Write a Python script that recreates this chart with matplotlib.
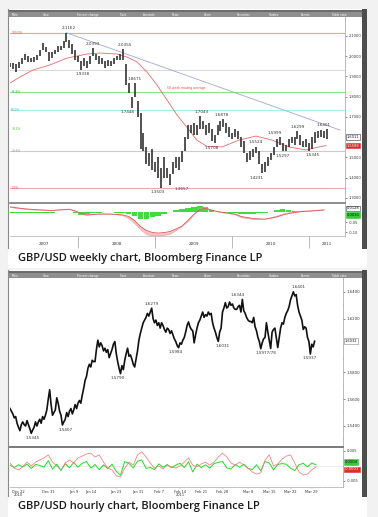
import numpy as np
import matplotlib
matplotlib.use("Agg")
from matplotlib import pyplot as plt
from matplotlib.ticker import MultipleLocator, FormatStrFormatter
from matplotlib.transforms import blended_transform_factory

W, H = 378, 517

# ---------------- weekly GBP/USD, two-week high/low bars ----------------
wk_start = 2007.12
wk_step = 2 / 52.0
wk_low = [1.945, 1.935, 1.920, 1.940, 1.960, 1.980, 1.970, 1.970, 1.970, 1.980,
          2.000, 2.030, 2.020, 1.975, 1.990, 2.010, 2.020, 2.030, 2.040, 2.070,
          2.040, 2.010, 1.980, 1.970, 1.9338, 1.950, 1.940, 1.960, 2.000, 1.980,
          1.960, 1.960, 1.940, 1.950, 1.950, 1.960, 1.980, 1.980, 1.980, 1.860,
          1.820, 1.7448, 1.800, 1.700, 1.540, 1.530, 1.470, 1.460, 1.440, 1.430,
          1.400, 1.3503, 1.400, 1.400, 1.3657, 1.420, 1.450, 1.440, 1.480, 1.530,
          1.590, 1.620, 1.610, 1.610, 1.640, 1.640, 1.610, 1.620, 1.580, 1.5708,
          1.610, 1.630, 1.650, 1.620, 1.600, 1.590, 1.600, 1.590, 1.550, 1.520,
          1.480, 1.490, 1.500, 1.520, 1.470, 1.4231, 1.430, 1.460, 1.490, 1.510,
          1.550, 1.560, 1.530, 1.5297, 1.550, 1.570, 1.560, 1.590, 1.560, 1.550,
          1.550, 1.5345, 1.540, 1.570, 1.598, 1.600, 1.598, 1.5937]
wk_high = [1.965, 1.965, 1.960, 1.970, 1.990, 2.010, 2.000, 1.990, 1.995, 2.005,
           2.030, 2.065, 2.045, 2.020, 2.020, 2.030, 2.050, 2.050, 2.075, 2.1162,
           2.080, 2.060, 2.030, 2.000, 1.975, 1.990, 1.975, 2.000, 2.0393, 2.010,
           2.000, 1.990, 1.975, 1.980, 1.975, 1.990, 2.000, 2.010, 2.0355, 1.960,
           1.870, 1.800, 1.8671, 1.780, 1.720, 1.620, 1.550, 1.520, 1.540, 1.480,
           1.500, 1.450, 1.500, 1.450, 1.420, 1.480, 1.500, 1.500, 1.530, 1.600,
           1.660, 1.660, 1.670, 1.660, 1.7043, 1.680, 1.660, 1.670, 1.640, 1.610,
           1.660, 1.680, 1.6878, 1.670, 1.650, 1.620, 1.640, 1.630, 1.600, 1.580,
           1.520, 1.530, 1.540, 1.5524, 1.530, 1.470, 1.480, 1.500, 1.520, 1.550,
           1.590, 1.5999, 1.570, 1.560, 1.590, 1.600, 1.600, 1.6299, 1.610, 1.580,
           1.590, 1.570, 1.600, 1.6279, 1.630, 1.6344, 1.630, 1.6401]
wk_last = 1.6011

# swing highs / lows that carry a price label
wk_lab_idx = [19, 24, 28, 38, 41, 42, 51, 54, 64, 69, 72, 83, 85, 91, 93, 97, 101, 107]
wk_lab_side = ["hi", "lo", "hi", "hi", "lo", "hi", "lo", "lo", "hi", "lo",
               "hi", "hi", "lo", "hi", "lo", "hi", "lo", "hi"]
wk_lab_dx = [2, 1, 0, 2, -4, 0, -4, 12, 2, -3, -2, 0, -5, -5, -3, 0, 3, -3]

# 50 week moving average
ma_t = [2007.117, 2007.247, 2007.416, 2007.636, 2007.857, 2008.117, 2008.286, 2008.506,
        2008.636, 2008.766, 2008.896, 2009.026, 2009.156, 2009.286, 2009.442, 2009.545,
        2009.675, 2009.870, 2010.091, 2010.312, 2010.519, 2010.740, 2010.961, 2011.130,
        2011.221]
ma_v = [1.868, 1.898, 1.932, 1.957, 1.991, 2.011, 2.016, 2.011, 1.996, 1.972, 1.922,
        1.858, 1.784, 1.710, 1.636, 1.585, 1.555, 1.552, 1.586, 1.606, 1.586, 1.552,
        1.537, 1.552, 1.5588]

trend_t = [2007.85, 2011.40]
trend_v = [2.1162, 1.636]
support = 1.9338

fib_levels = [2.1162, 1.8236, 1.7333, 1.6429, 1.5311, 1.3503]
fib_names = ["100.0%", "61.8%", "50.0%", "38.2%", "23.6%", "0.0%"]

# MACD panel, four-week steps
macd_step = 4 / 52.0
wk_macd = [0.028, 0.024, 0.020, 0.017, 0.015, 0.013, 0.012, 0.010, 0.012, 0.014,
           0.016, 0.008, -0.005, -0.012, -0.010, -0.008, -0.008, -0.008, -0.010, -0.012,
           -0.020, -0.040, -0.070, -0.090, -0.100, -0.103, -0.100, -0.095, -0.082, -0.068,
           -0.040, -0.010, 0.015, 0.020, 0.012, 0.005, 0.000, -0.004, -0.008, -0.020,
           -0.025, -0.030, -0.032, -0.033, -0.028, -0.022, -0.012, -0.005, 0.000, 0.004,
           0.006, 0.008, 0.010, 0.0128]
wk_fast = [0.026, 0.021, 0.018, 0.015, 0.013, 0.012, 0.011, 0.009, 0.013, 0.016,
           0.017, 0.004, -0.010, -0.014, -0.010, -0.007, -0.007, -0.008, -0.011, -0.015,
           -0.030, -0.055, -0.085, -0.110, -0.116, -0.117, -0.114, -0.108, -0.090, -0.070,
           -0.045, -0.012, 0.020, 0.024, 0.012, 0.003, -0.002, -0.006, -0.012, -0.025,
           -0.030, -0.034, -0.035, -0.034, -0.027, -0.018, -0.008, -0.002, 0.002, 0.006,
           0.008, 0.010, 0.012, 0.013]
wk_hist = [-0.002, -0.003, -0.004, -0.004, -0.003, -0.002, -0.002, -0.002, 0.000, 0.002,
           0.003, -0.004, -0.011, -0.010, -0.004, -0.002, 0.000, 0.000, -0.001, -0.002,
           -0.007, -0.018, -0.032, -0.032, -0.025, -0.016, -0.006, 0.001, 0.011, 0.017,
           0.022, 0.025, 0.030, 0.025, 0.014, 0.001, -0.004, -0.005, -0.005, -0.010,
           -0.008, -0.007, -0.004, -0.002, 0.003, 0.012, 0.016, 0.012, 0.008, 0.006,
           0.004, 0.003, 0.002, 0.003]

# 1.6000 and 0.00 sit under the value boxes in the reference
wk_price_ticks = [1.3, 1.4, 1.5, 1.7, 1.8, 1.9, 2.0, 2.1]
wk_macd_ticks = [-0.10, -0.05]
years = ["2007", "2008", "2009", "2010", "2011"]
year_bounds = [2008, 2009, 2010, 2011]

# ---------------- hourly GBP/USD (8 hour steps, x in trading days) ----------------
hr_step = 1 / 3.0
hr_price = [1.553, 1.551, 1.549, 1.546, 1.547, 1.542, 1.539, 1.5365, 1.541, 1.543,
            1.541, 1.540, 1.544, 1.541, 1.538, 1.5345, 1.537, 1.539, 1.543, 1.540,
            1.543, 1.545, 1.542, 1.547, 1.545, 1.548, 1.552, 1.560, 1.567, 1.556,
            1.548, 1.550, 1.552, 1.561, 1.557, 1.551, 1.548, 1.5407, 1.543, 1.545,
            1.550, 1.547, 1.551, 1.553, 1.549, 1.552, 1.556, 1.553, 1.557, 1.559,
            1.557, 1.563, 1.568, 1.574, 1.577, 1.583, 1.586, 1.584, 1.589, 1.588,
            1.588, 1.597, 1.604, 1.599, 1.602, 1.600, 1.596, 1.598, 1.595, 1.597,
            1.591, 1.594, 1.597, 1.601, 1.603, 1.594, 1.588, 1.583, 1.5790, 1.585,
            1.582, 1.589, 1.594, 1.598, 1.592, 1.593, 1.590, 1.586, 1.584, 1.590,
            1.596, 1.604, 1.609, 1.613, 1.617, 1.619, 1.621, 1.624, 1.622, 1.625,
            1.6279, 1.620, 1.617, 1.619, 1.615, 1.617, 1.613, 1.617, 1.615, 1.612,
            1.610, 1.613, 1.612, 1.609, 1.611, 1.608, 1.605, 1.603, 1.600, 1.5984,
            1.602, 1.601, 1.604, 1.606, 1.610, 1.615, 1.6176, 1.614, 1.612, 1.611,
            1.602, 1.608, 1.613, 1.617, 1.619, 1.622, 1.625, 1.621, 1.623, 1.622,
            1.625, 1.623, 1.624, 1.617, 1.613, 1.610, 1.606, 1.6031, 1.610, 1.613,
            1.625, 1.628, 1.632, 1.628, 1.629, 1.6325, 1.630, 1.631, 1.628, 1.627,
            1.627, 1.629, 1.630, 1.625, 1.6344, 1.626, 1.624, 1.621, 1.619, 1.618,
            1.618, 1.617, 1.621, 1.614, 1.611, 1.606, 1.603, 1.5977, 1.602, 1.605,
            1.606, 1.617, 1.610, 1.604, 1.5978, 1.610, 1.612, 1.613, 1.606, 1.5985,
            1.606, 1.613, 1.617, 1.616, 1.621, 1.624, 1.626, 1.629, 1.634, 1.637,
            1.6401, 1.637, 1.638, 1.630, 1.625, 1.622, 1.619, 1.612, 1.614, 1.613,
            1.606, 1.603, 1.5937, 1.601, 1.599, 1.6032]

hr_lab_idx = [15, 37, 78, 100, 119, 147, 164, 177, 200, 212]
hr_lab_text = ["1.5345", "1.5407", "1.5790", "1.6279", "1.5984", "1.6031", "1.6344",
               "1.5977/78", "1.6401", "1.5937"]
hr_lab_side = ["lo", "lo", "lo", "hi", "lo", "lo", "hi", "lo", "hi", "lo"]
hr_lab_dx = [1, 3, -3, 0, -3, 4, -5, 5, 5, -1]

# oscillator, one value per trading day (x 0.001)
osc_red = [1.0, -0.7, -1.3, -0.3, 1.3, 0.0, 1.3, 2.0, 2.7, 3.7,
           1.3, 0.0, -1.3, 1.0, 2.0, 1.0, 2.7, 3.3, 4.0, 4.3,
           3.0, 3.7, 1.3, -0.7, -1.3, -3.3, -3.7, -0.7, 1.3, 0.3,
           3.7, 4.7, 3.0, 1.0, -0.7, 0.0, -1.0, 0.3, -0.3, -0.7,
           0.0, 1.3, 2.7, 0.3, -0.3, 0.7, 1.3, 0.3, 1.3, 3.0,
           4.3, 3.0, 1.0, 0.3, 1.3, 0.3, -0.7, -2.0, -2.7, -2.3,
           2.0, 3.7, 0.0, 0.7, 2.3, 3.3, 3.7, 1.0, -2.0, -3.0,
           -2.7, -1.3, -0.3]
osc_green = [0.3, -0.5, 0.4, -0.3, 0.6, -0.8, 0.5, 0.2, -0.4, 1.8,
             -1.0, 0.6, -1.5, 0.8, -0.6, 1.2, -0.4, 0.9, 1.5, -0.7,
             0.5, -1.2, 0.4, -0.9, 0.6, -1.8, -3.0, 1.5, 0.8, -0.6,
             1.6, 2.0, -0.8, -0.5, -1.2, 0.7, -0.4, 0.5, -0.6, 0.3,
             0.9, -0.5, 1.4, -2.0, 0.6, -0.5, 0.4, -0.7, 0.8, 1.2,
             1.5, -0.6, -1.0, 0.5, -0.4, 0.6, -0.8, -1.2, 0.4, -1.6,
             1.5, 1.0, -1.3, 0.5, 0.8, 0.6, -0.7, -1.5, 0.4, 0.9,
             -0.3, 1.0, 0.4]

hr_tick_day = [2, 9, 15, 19, 25, 30, 35, 40, 45, 50, 56, 61, 66, 71]
hr_tick_lab = ["Dec 22\n2010", "Dec 31", "Jan 9", "Jan 14", "Jan 23", "Jan 31", "Feb 7",
               "Feb 14\n2011", "Feb 21", "Feb 28", "Mar 8", "Mar 15", "Mar 22", "Mar 29"]
hr_price_ticks = [1.54, 1.56, 1.58, 1.62, 1.64]
hr_osc_ticks = [-0.005, 0.005]

toolbar_items = ["Main", "View", "Percent change", "Track", "Annotate", "News",
                 "Zoom", "Securities", "Studies", "Events", "Table view"]


fig = plt.figure(figsize=(W / 100, H / 100), dpi=100)
fig.patch.set_facecolor("#f2f2f2")


def px_axes(x0, y0, x1, y1):
    return fig.add_axes([x0 / W, 1 - y1 / H, (x1 - x0) / W, (y1 - y0) / H])


def blank(ax, fc):
    ax.set_facecolor(fc)
    ax.set_xticks([])
    ax.set_yticks([])
    for s in ax.spines.values():
        s.set_visible(False)


def window(y0, y1):
    bg = px_axes(8, y0, 363, y1)
    blank(bg, "white")
    bg.spines["left"].set_visible(True)
    bg.spines["left"].set_color("#8a8a8a")
    bg.spines["left"].set_linewidth(0.8)
    blank(px_axes(362, y0, 367, y1), "#4d4d4d")
    tb = px_axes(9, y0 + 1, 362, y0 + 8)
    blank(tb, "#8f8f8f")
    blank(px_axes(9, y0 + 1, 362, y0 + 3.2), "#6c6c6c")
    xs = [12, 43, 77, 120, 143, 172, 204, 237, 269, 301, 332]
    for name, x in zip(toolbar_items, xs):
        tb.text((x - 9) / 353.0, 0.3, name, fontsize=2.0, color="white",
                va="center", ha="left", transform=tb.transAxes)


def caption(y0, y1, text):
    ax = px_axes(8, y0, 367, y1)
    blank(ax, "white")
    ax.text(0.028, 0.5, text, fontsize=8, family="Open Sans", weight="semibold",
            color="#1a1a1a", va="center", ha="left", transform=ax.transAxes)


def right_box(ax, y, text, fc, ec, tc, dy=0):
    ax.annotate(text, (1.0, y), xycoords=blended_transform_factory(ax.transAxes, ax.transData),
                xytext=(1.2, dy * 0.72), textcoords="offset points", fontsize=2.6,
                color=tc, ha="left", va="center", annotation_clip=False, zorder=6,
                bbox=dict(boxstyle="square,pad=0.25", fc=fc, ec=ec, lw=0.4))


def swing_labels(ax, xs, ys, texts, sides, dxs):
    for x, y, s, side, dx in zip(xs, ys, texts, sides, dxs):
        dy = 4.5 if side == "hi" else -4.5
        ax.annotate(s, (x, y), xytext=(dx * 0.72, dy * 0.72), textcoords="offset points",
                    ha="center", va="center", fontsize=3.0, color="#333333", zorder=5)


def style_right(ax, ticks, fmt, size):
    ax.yaxis.tick_right()
    ax.set_yticks(ticks)
    ax.yaxis.set_major_formatter(FormatStrFormatter(fmt))
    ax.tick_params(axis="y", which="major", length=1.5, width=0.4, pad=1,
                   labelsize=size, colors="#333333")
    ax.tick_params(axis="y", which="minor", length=1.0, width=0.3, colors="#777777")
    for side in ("left", "top"):
        ax.spines[side].set_visible(False)
    ax.spines["right"].set_color("#a0a0a0")
    ax.spines["right"].set_linewidth(0.5)


# ======================= weekly chart =======================
window(9, 249)
caption(249, 268, "GBP/USD weekly chart, Bloomberg Finance LP")

ax1 = px_axes(10, 17, 345, 203)
ax2 = px_axes(10, 204, 345, 236)
xlim_wk = (2007.117, 2011.468)

t_wk = wk_start + wk_step * np.arange(len(wk_low))
ax1.set_xlim(*xlim_wk)
ax1.set_ylim(1.2753, 2.1938)
ax1.set_xticks([])
fib_line = ["#f4a0a0", "#88e888", "#a6eeee", None, "#cccccc", "#f0a8a8"]
fib_text = ["#e04848", "#33c033", "#33b8c8", "#33c033", "#999999", "#e04848"]
lab_tr = blended_transform_factory(ax1.transAxes, ax1.transData)
for lvl, name, lc, tc in zip(fib_levels, fib_names, fib_line, fib_text):
    if lc:
        ax1.axhline(lvl, color=lc, lw=0.8, zorder=1)
    ax1.text(0.004, lvl, name, transform=lab_tr, fontsize=2.1, color=tc,
             va="center", ha="left", zorder=2)
ax1.axhline(support, color="#d2d2d2", lw=0.6, zorder=1)
ax1.plot(trend_t, trend_v, color="#a4a4dc", lw=0.6, zorder=2)
ax1.plot(ma_t, ma_v, color="#e86a6a", lw=0.6, zorder=2)
ax1.text(2009.40, 1.843, "50 week moving average", fontsize=2.2, color="#e04040",
         ha="center", va="center")
ax1.vlines(t_wk, wk_low, wk_high, color="#333333", lw=1.2, zorder=3)

lab_x = [t_wk[i] for i in wk_lab_idx]
lab_y = [wk_high[i] if s == "hi" else wk_low[i] for i, s in zip(wk_lab_idx, wk_lab_side)]
swing_labels(ax1, lab_x, lab_y, ["%.4f" % v for v in lab_y], wk_lab_side, wk_lab_dx)

style_right(ax1, wk_price_ticks, "%.4f", 2.6)
ax1.yaxis.set_minor_locator(MultipleLocator(0.05))
ax1.spines["bottom"].set_color("#7a7a7a")
ax1.spines["bottom"].set_linewidth(1.2)
right_box(ax1, wk_last, "%.4f" % wk_last, "white", "#333333", "#111111")
right_box(ax1, ma_v[-1], "%.4f" % ma_v[-1], "#dd2a2a", "#dd2a2a", "white")

t_macd = wk_start + macd_step * np.arange(len(wk_macd))
ax2.set_xlim(*xlim_wk)
ax2.set_ylim(-0.1175, 0.0425)
ax2.fill_between(t_macd, wk_macd, wk_fast, color="#f7c4c4", lw=0, zorder=1)
ax2.bar(t_macd, wk_hist, width=macd_step * 0.95, color="#3fdc3f", lw=0, zorder=2)
ax2.plot(t_macd, wk_fast, color="#f0a0a0", lw=0.4, zorder=3)
ax2.plot(t_macd, wk_macd, color="#e05555", lw=0.6, zorder=3)
style_right(ax2, wk_macd_ticks, "%.2f", 2.6)
ax2.spines["bottom"].set_color("#b0b0b0")
ax2.spines["bottom"].set_linewidth(0.5)
right_box(ax2, wk_macd[-1], "%.4f" % wk_macd[-1], "white", "#333333", "#111111", dy=1.5)
right_box(ax2, wk_hist[-1], "%.4f" % wk_hist[-1], "#33cc33", "#33cc33", "#111111", dy=-3.5)

bounds = [xlim_wk[0]] + year_bounds + [xlim_wk[1]]
mids = [(a + b) / 2 for a, b in zip(bounds[:-1], bounds[1:])]
ax2.set_xticks(year_bounds)
ax2.set_xticklabels([])
ax2.tick_params(axis="x", which="major", length=8.6, width=0.5, colors="#a0a0a0")
ax2.set_xticks(mids, minor=True)
ax2.set_xticklabels(years, minor=True)
ax2.tick_params(axis="x", which="minor", length=0, pad=4.6, labelsize=3.0,
                labelcolor="#333333")

# ======================= hourly chart =======================
window(270, 497)
caption(497, 517, "GBP/USD hourly chart, Bloomberg Finance LP")

ax3 = px_axes(10, 278, 343, 447)
ax4 = px_axes(10, 448, 343, 487)
xlim_hr = (0, 78.35)

d_hr = hr_step * np.arange(len(hr_price))
ax3.set_xlim(*xlim_hr)
ax3.set_ylim(1.5243, 1.6504)
ax3.set_xticks([])
ax3.plot(d_hr, hr_price, color="#111111", lw=1.2, zorder=3)
lab_x = [d_hr[i] for i in hr_lab_idx]
lab_y = [hr_price[i] for i in hr_lab_idx]
swing_labels(ax3, lab_x, lab_y, hr_lab_text, hr_lab_side, hr_lab_dx)
style_right(ax3, hr_price_ticks, "%.4f", 2.8)
ax3.yaxis.set_minor_locator(MultipleLocator(0.01))
ax3.spines["bottom"].set_color("#7a7a7a")
ax3.spines["bottom"].set_linewidth(1.4)
right_box(ax3, hr_price[-1], "%.4f" % hr_price[-1], "white", "#888888", "#111111")

d_osc = np.arange(len(osc_red))
red = np.array(osc_red) / 1000.0
green = np.array(osc_green) / 1000.0
ax4.set_xlim(*xlim_hr)
ax4.set_ylim(-0.007, 0.006)
ax4.axhline(0, color="#dddddd", lw=0.4, zorder=1)
ax4.plot(d_osc, green, color="#22dd22", lw=0.7, zorder=2)
ax4.plot(d_osc, red, color="#ef7b7b", lw=0.55, zorder=3)
style_right(ax4, hr_osc_ticks, "%.3f", 2.6)
ax4.yaxis.set_minor_locator(MultipleLocator(0.0025))
ax4.spines["bottom"].set_color("#b0b0b0")
ax4.spines["bottom"].set_linewidth(0.5)
right_box(ax4, green[-1], "%.4f" % green[-1], "#33cc33", "#33cc33", "#111111", dy=2.6)
right_box(ax4, red[-1], "%.4f" % red[-1], "#dd2a2a", "#dd2a2a", "white", dy=-2.6)
ax4.set_xticks(hr_tick_day)
ax4.set_xticklabels(hr_tick_lab)
ax4.xaxis.set_minor_locator(MultipleLocator(1))
ax4.tick_params(axis="x", which="major", length=1.2, width=0.3, pad=0.8, labelsize=2.6,
                colors="#999999", labelcolor="#333333")
ax4.tick_params(axis="x", which="minor", length=0.8, width=0.3, colors="#999999")
for lab in ax4.get_xticklabels():
    lab.set_linespacing(0.9)

fig.savefig("out.png", dpi=100, facecolor=fig.get_facecolor())
